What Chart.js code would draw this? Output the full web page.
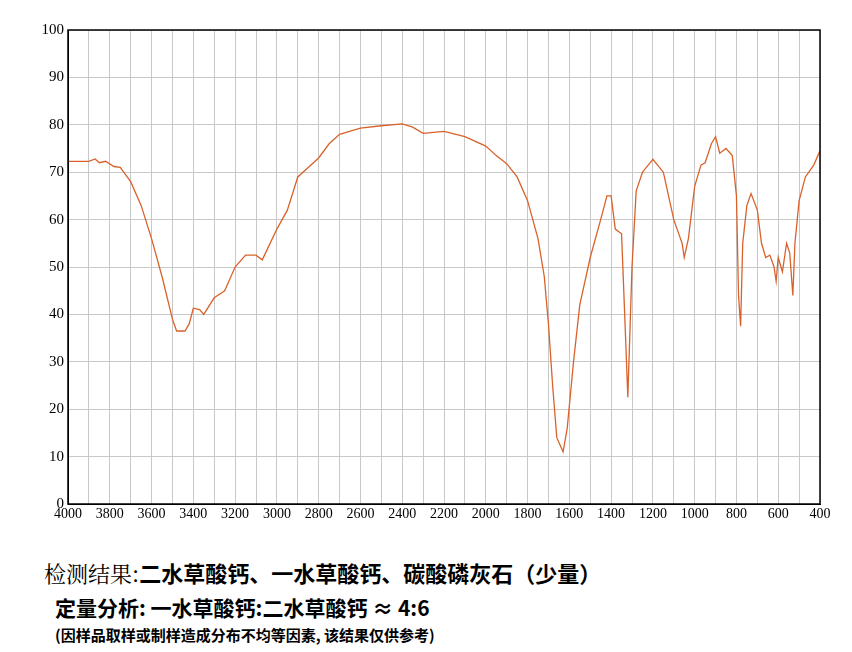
<!DOCTYPE html>
<html><head><meta charset="utf-8">
<script src="https://cdn.jsdelivr.net/npm/chart.js@4"></script>
<style>
body{margin:0;background:#fff;width:852px;height:652px;overflow:hidden;font-family:"Noto Sans CJK SC",sans-serif}
#c{position:absolute;left:0;top:0}
.t{position:absolute;color:#000;white-space:nowrap}
</style></head><body>
<canvas id="c" width="852" height="530"></canvas>
<div class="t" style="left:44px;top:556px;font-size:22px"><span style="font-family:'Noto Serif CJK SC','Noto Sans CJK SC';font-weight:400">检测结果:</span><b>二水草酸钙、一水草酸钙、碳酸磷灰石（少量）</b></div>
<div class="t" style="left:55px;top:592px;font-size:21px;font-weight:700">定量分析: 一水草酸钙:二水草酸钙 ≈ 4:6</div>
<div class="t" style="left:55px;top:624px;font-size:15px;font-weight:700">(因样品取样或制样造成分布不均等因素, 该结果仅供参考)</div>
<script>
// 波数 cm-1 与透过率 %
const wavenumbers = [4000,3900,3870,3850,3820,3780,3750,3700,3650,3600,3550,3500,3480,3440,3420,3400,3370,3350,3300,3250,3200,3150,3100,3070,3000,2950,2900,2850,2800,2750,2700,2600,2500,2400,2350,2300,2200,2100,2000,1950,1900,1850,1800,1750,1720,1700,1680,1660,1630,1610,1580,1550,1500,1450,1420,1400,1380,1350,1335,1320,1300,1280,1250,1200,1150,1100,1060,1050,1030,1000,970,950,920,900,880,850,820,800,790,780,770,750,730,700,680,660,640,620,610,600,580,560,545,530,520,500,470,430,400];
const transmittance = [72.3,72.3,72.8,72.0,72.3,71.2,71,68,63,56,48,39,36.5,36.5,38,41.3,41,40,43.5,45,50,52.5,52.5,51.5,58,62,69,71,73,76,78,79.3,79.8,80.2,79.5,78.2,78.6,77.5,75.5,73.5,71.8,69,64,56,48,38,25,14,11,16,30,42,52,60,65,65,58,57,40,22.5,50,66,70,72.7,70,60,55,52,56,67,71.5,72,76,77.5,74,75,73.5,65,44,37.5,55,63,65.5,62,55,52,52.5,50,47,52,49,55,53,44,55,64,69,71.5,74.5];
const xTicks = [4000,3800,3600,3400,3200,3000,2800,2600,2400,2200,2000,1800,1600,1400,1200,1000,800,600,400];

const points = wavenumbers.map((w,i)=>({x:w,y:transmittance[i]}));
const frame = {id:'frame',afterDraw(ch){const a=ch.chartArea,g=ch.ctx;g.save();g.strokeStyle='#000';g.lineWidth=1.5;g.strokeRect(a.left,a.top,a.right-a.left,a.bottom-a.top);g.restore();}};
new Chart(document.getElementById('c'), {
  type:'line',
  data:{datasets:[{data:points,borderColor:'#d9622b',borderWidth:1.3,pointRadius:0,tension:0}]},
  options:{
    responsive:false,animation:false,
    layout:{padding:{top:30,right:32,left:0,bottom:0}},
    plugins:{legend:{display:false},tooltip:{enabled:false}},
    scales:{
      x:{type:'linear',reverse:true,min:400,max:4000,
        afterFit(s){s.height=26;},
        afterBuildTicks(s){s.ticks=[];for(let v=400;v<=4000;v+=100)s.ticks.push({value:v});},
        ticks:{autoSkip:false,maxRotation:0,color:'#000',font:{family:'Liberation Serif',size:14},padding:2,
          callback:v=>xTicks.includes(v)?String(v):''},
        grid:{color:'#c8c8c8',drawTicks:false},border:{color:'#000'}},
      y:{min:0,max:100,
        afterFit(s){s.width=68;},
        ticks:{stepSize:10,color:'#000',font:{family:'Liberation Serif',size:15},padding:4},
        grid:{color:'#c8c8c8',drawTicks:false},border:{color:'#000'}}
    }
  },
  plugins:[frame]
});
</script>
</body></html>
